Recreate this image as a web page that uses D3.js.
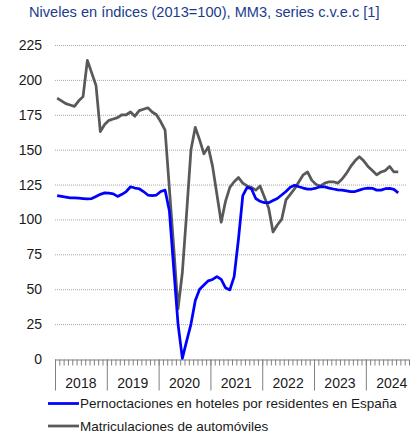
<!DOCTYPE html>
<html>
<head>
<meta charset="utf-8">
<script src="https://cdn.jsdelivr.net/npm/d3@7"></script>
<style>
	body { margin: 0; background: #fff; }
	svg { display: block; font-family: "Liberation Sans", Arial, sans-serif; }
</style>
</head>
<body>
<script>

// monthly values, Jan 2018 - Aug 2024 (MM3, 2013=100)
const years = ['2018', '2019', '2020', '2021', '2022', '2023', '2024'];
const axisMonths = 82; // axis runs Jan 2018 - Oct 2024

const hotelValues = [
	117, 116.5, 116, 115.5, 115.5, 115.3, 115, 114.7, 115, 116.5, 118, 119,
	118.8, 118.3, 116.5, 118, 120, 123.4, 122.5, 122, 120, 117.5, 117, 117.5,
	120, 121, 106, 65, 25, 0.5, 13, 25, 42, 50, 53, 56,
	57, 59, 57, 51, 49.5, 59, 86, 117, 123, 122, 115, 113,
	112, 112, 113.5, 115, 117.5, 120, 123, 124.5, 123.4, 122.5, 121.7, 121.8,
	122.5, 123.5, 123.3, 122.5, 121.8, 121.2, 121, 120.5, 120, 120, 121, 122,
	122.5, 122.3, 121, 121, 122, 122.3, 121.5, 119
];

const carValues = [
	187, 185, 183, 182, 181, 185, 188, 214, 205, 196, 163, 168,
	171, 172, 173, 175, 175, 177, 174, 178, 179, 180, 177, 175,
	170, 164, 122, 80, 36, 62, 105, 150, 166, 157, 147, 152,
	138, 118, 98, 113, 123, 127, 130, 126, 124, 123, 121, 124,
	116, 108, 91, 96, 100, 114, 118, 122, 127, 132, 134, 128,
	125, 124, 126, 127, 127, 126, 129, 133, 138, 142, 145, 142,
	138, 135, 132, 134, 135, 138, 134, 134
];

const yTicks = [0, 25, 50, 75, 100, 125, 150, 175, 200, 225];

const seriesNames = [
	'Pernoctaciones en hoteles por residentes en España',
	'Matriculaciones de automóviles'
];
const seriesColors = ['#0000ff', '#595959'];

const width = 410;
const height = 437;
const plotLeft = 55;
const plotRight = 409;
const plotTop = 45;
const plotBottom = 359;

const svg = d3.select('body')
	.append('svg')
	.attr('width', width)
	.attr('height', height);

// title
svg.append('text')
	.attr('x', 29)
	.attr('y', 17)
	.attr('fill', '#1a3c8c')
	.style('font-size', '14.6px')
	.text('Niveles en índices (2013=100), MM3, series c.v.e.c [1]');

const xScale = d3.scaleLinear()
	.domain([0, axisMonths])
	.range([plotLeft, plotRight]);

const yScale = d3.scaleLinear()
	.domain([0, 225])
	.range([plotBottom, plotTop]);

// dotted grid
svg.append('g')
	.selectAll('line')
	.data(yTicks.filter(d => d > 0))
	.enter()
	.append('line')
	.attr('x1', plotLeft)
	.attr('x2', 407)
	.attr('y1', d => yScale(d) + 0.5)
	.attr('y2', d => yScale(d) + 0.5)
	.attr('stroke', '#a6a6a6')
	.attr('stroke-width', 1)
	.attr('stroke-dasharray', '1,1');

// y labels
const yAxis = d3.axisLeft(yScale)
	.tickValues(yTicks)
	.tickSize(0)
	.tickPadding(0);

const yG = svg.append('g')
	.attr('transform', 'translate(42,0)')
	.call(yAxis);
yG.select('.domain').remove();
yG.selectAll('text')
	.attr('fill', '#1a1a1a')
	.style('font-size', '14px')
	.style('font-family', '"Liberation Sans", Arial, sans-serif');

// x axis: monthly ticks + year separators
const monthAxis = d3.axisBottom(xScale)
	.tickValues(d3.range(0, axisMonths + 1))
	.tickSize(6)
	.tickSizeOuter(0)
	.tickFormat('');

const mG = svg.append('g')
	.attr('transform', 'translate(0,' + (plotBottom + 0.5) + ')')
	.call(monthAxis);
mG.select('.domain').attr('stroke', '#808080');
mG.selectAll('.tick line').attr('stroke', '#808080');

const yearAxis = d3.axisBottom(xScale)
	.tickValues(d3.range(0, years.length * 12, 12))
	.tickSize(31)
	.tickFormat('');

const yrG = svg.append('g')
	.attr('transform', 'translate(0,' + (plotBottom + 0.5) + ')')
	.call(yearAxis);
yrG.select('.domain').remove();
yrG.selectAll('.tick line').attr('stroke', '#808080');

svg.append('g')
	.selectAll('text')
	.data(years)
	.enter()
	.append('text')
	.attr('x', (d, i) => xScale(i * 12 + 6))
	.attr('y', 388)
	.attr('text-anchor', 'middle')
	.attr('fill', '#1a1a1a')
	.style('font-size', '14px')
	.text(d => d);

// lines
const line = d3.line()
	.x((d, i) => xScale(i + 0.5))
	.y(d => yScale(d));

[carValues, hotelValues].forEach((vals, k) => {
	svg.append('path')
		.datum(vals)
		.attr('fill', 'none')
		.attr('stroke', k === 0 ? seriesColors[1] : seriesColors[0])
		.attr('stroke-width', 2.75)
		.attr('stroke-linejoin', 'round')
		.attr('d', line);
});

// legend
const legend = svg.append('g');
seriesNames.forEach((name, i) => {
	const ly = 403.5 + i * 22.5;
	legend.append('line')
		.attr('x1', 48)
		.attr('x2', 79)
		.attr('y1', ly)
		.attr('y2', ly)
		.attr('stroke', seriesColors[i])
		.attr('stroke-width', 2.75);
	legend.append('text')
		.attr('x', 80)
		.attr('y', ly + 4.5)
		.attr('fill', '#1a1a1a')
		.style('font-size', '13.5px')
		.text(name);
});

</script>
</body>
</html>
